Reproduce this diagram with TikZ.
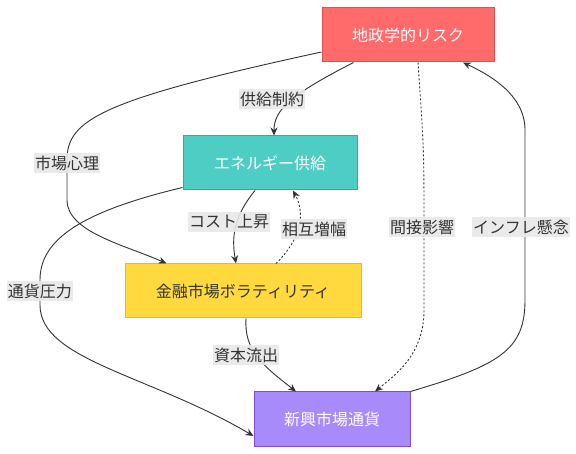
\documentclass[tikz,border=0pt]{standalone}
\usepackage{fontspec}
\setmainfont{Noto Sans CJK JP}
\usetikzlibrary{arrows.meta,calc}
\definecolor{geoF}{HTML}{FF6B6B}\definecolor{geoD}{HTML}{E05252}
\definecolor{enF}{HTML}{4ECDC4}\definecolor{enD}{HTML}{3AA89F}
\definecolor{fiF}{HTML}{FFD93D}\definecolor{fiD}{HTML}{E6BC1F}
\definecolor{emF}{HTML}{A78BFA}\definecolor{emD}{HTML}{7C4DDB}
\definecolor{lineC}{HTML}{333333}
\definecolor{lblF}{HTML}{E8E8E8}
\begin{document}
\begin{tikzpicture}[x=1pt,y=-1pt,
  box/.style={draw, line width=1pt, minimum height=54pt, inner sep=0pt,
    font=\fontsize{16}{19}\selectfont},
  lbl/.style={fill=lblF, fill opacity=0.9, text opacity=1, text=lineC, inner xsep=1pt, inner ysep=3pt,
    font=\fontsize{16}{19}\selectfont},
  arr/.style={draw=lineC, line width=0.9pt, -{Stealth[length=8pt,width=7pt]}},
  darr/.style={arr, dash pattern=on 2pt off 2pt}]
\useasboundingbox (0,0) rectangle (576,454);
\fill[white] (0,0) rectangle (576,454);
% nodes
\node[box, fill=geoF, draw=geoD, text=white, minimum width=172pt] (geo) at (408,35) {地政学的リスク};
\node[box, fill=enF, draw=enD, text=white, minimum width=174pt] (ener) at (270,163) {エネルギー供給};
\node[box, fill=fiF, draw=fiD, text=lineC, minimum width=236pt] (fin) at (243,291) {金融市場ボラティリティ};
\node[box, fill=emF, draw=emD, text=white, minimum width=156pt] (emc) at (332,419) {新興市場通貨};
% edge anchor coordinates
\coordinate (g1) at ([xshift=32pt]geo.south west);
\coordinate (g2) at ([yshift=-17pt]geo.west);
\coordinate (g3) at ([xshift=10pt]geo.south);
\coordinate (g4) at ([xshift=55pt]geo.south);
\coordinate (e1) at ([xshift=4pt]ener.north);
\coordinate (e2) at ([xshift=-15pt]ener.south);
\coordinate (e3) at ([yshift=3pt]ener.south west);
\coordinate (e4) at ([xshift=23pt]ener.south);
\coordinate (f1) at ([xshift=42pt]fin.north west);
\coordinate (f2) at ([xshift=-7pt]fin.north);
\coordinate (f3) at ([xshift=33pt]fin.north);
\coordinate (f4) at ([xshift=3pt]fin.south);
\coordinate (m1) at ([xshift=-36pt]emc.north);
\coordinate (m2) at ([yshift=-17pt]emc.west);
\coordinate (m3) at ([xshift=43pt]emc.north);
\coordinate (m4) at (emc.north east);
% edges
\draw[arr] (g1) .. controls (290,95) and (274,110) .. (e1);
\draw[arr] (g2) .. controls (100,100) and (67,120) .. (67,160) -- (67,200) .. controls (67,232) and (125,245) .. (f1);
\draw[arr] (e2) .. controls (235,215) and (231,235) .. (f2);
\draw[darr] (f3) .. controls (300,240) and (306,215) .. (e4);
\draw[arr] (e3) .. controls (80,212) and (40,240) .. (40,280) -- (40,305) .. controls (40,360) and (150,375) .. (m2);
\draw[arr] (f4) .. controls (244,350) and (262,365) .. (m1);
\draw[darr] (g3) .. controls (424,150) .. (424,230) -- (424,310) .. controls (424,355) and (395,375) .. (m3);
\draw[arr] (m4) .. controls (500,365) and (525,350) .. (525,300) -- (525,130) .. controls (525,95) and (490,75) .. (g4);
% labels
\node[lbl] (l1) at (272,99) {供給制約};
\node[lbl] (l2) at (67,163) {市場心理};
\node[lbl] (l3) at (229,222) {コスト上昇};
\node[lbl] (l4) at (314,229) {相互増幅};
\node[lbl] (l5) at (40,291) {通貨圧力};
\node[lbl] (l6) at (246,355) {資本流出};
\node[lbl] (l7) at (422,227) {間接影響};
\node[lbl] (l8) at (521,227) {インフレ懸念};
\end{tikzpicture}
\end{document}
